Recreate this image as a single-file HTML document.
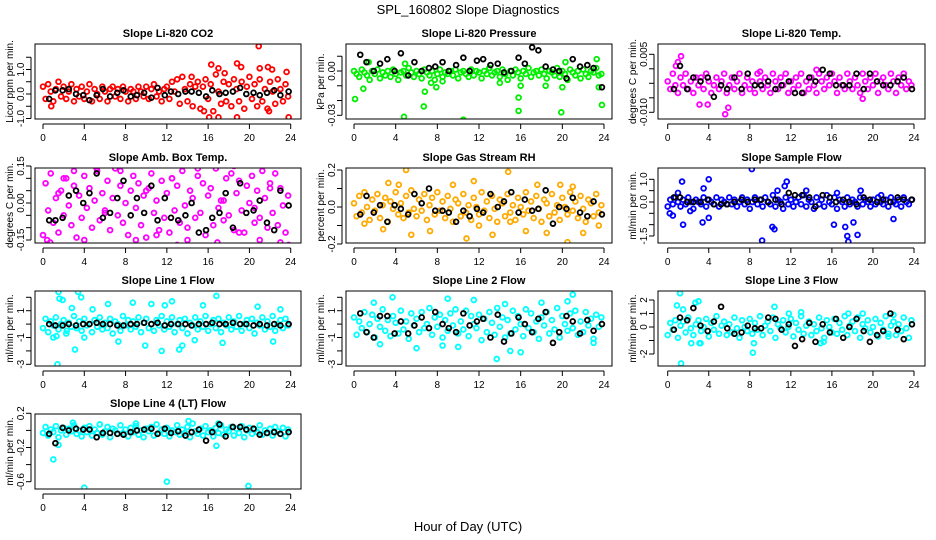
<!DOCTYPE html>
<html><head><meta charset="utf-8"><style>
html,body{margin:0;padding:0;background:#fff;}
svg{display:block;font-family:"Liberation Sans",Arial,sans-serif;}
</style></head><body>
<svg id="chart" width="936" height="540" viewBox="0 0 936 540">
<text x="468" y="14" text-anchor="middle" font-size="13">SPL_160802  Slope Diagnostics</text>
<text x="468" y="531" text-anchor="middle" font-size="13">Hour of Day (UTC)</text>
</svg>
<script>
// Shared time grids (hours of day)
const hours = [0,0.25,0.5,0.75,1,1.25,1.5,1.75,2,2.25,2.5,2.75,3,3.25,3.5,3.75,4,4.25,4.5,4.75,5,5.25,5.5,5.75,6,6.25,6.5,6.75,7,7.25,7.5,7.75,8,8.25,8.5,8.75,9,9.25,9.5,9.75,10,10.25,10.5,10.75,11,11.25,11.5,11.75,12,12.25,12.5,12.75,13,13.25,13.5,13.75,14,14.25,14.5,14.75,15,15.25,15.5,15.75,16,16.25,16.5,16.75,17,17.25,17.5,17.75,18,18.25,18.5,18.75,19,19.25,19.5,19.75,20,20.25,20.5,20.75,21,21.25,21.5,21.75,22,22.25,22.5,22.75,23,23.25,23.5,23.75];
const blackHours = [0.6,1.2,1.9,2.5,3.2,3.9,4.5,5.2,5.8,6.5,7.2,7.8,8.5,9.1,9.8,10.5,11.1,11.8,12.4,13.1,13.8,14.4,15.1,15.8,16.4,17.1,17.7,18.4,19.1,19.7,20.4,21,21.7,22.4,23,23.8];
const xTicks = [0,4,8,12,16,20,24];

// Panel 1: CO2 (ppm/min)
const co2 = [0.3,-0.2,0.4,0.1,-0.3,0.2,0.5,-0.1,0.3,-0.2,0.1,0.4,-0.3,0.2,-0.1,0.3,-0.2,0.1,0.4,-0.3,0.2,0,-0.2,0.3,0.1,-0.3,0.2,0.3,-0.1,0.2,-0.2,0.3,0.1,-0.3,0.2,0.1,-0.2,0.3,0.1,-0.1,0.3,-0.2,0.2,0.4,-0.1,0.1,-0.3,0.2,0.3,-0.2,0.5,0.1,0.6,-0.4,0.7,0.2,-0.3,0.4,-0.5,0.3,0.5,-0.6,0.3,0.6,-0.2,0.4,-0.7,0.8,0.1,-0.4,0.5,-0.3,0.4,-0.5,0.6,0.2,-0.3,0.5,-0.6,0.3,0.7,-0.2,0.4,-0.5,0.6,-0.3,0.2,-0.6,0.5,0.1,-0.4,0.6,0.2,-0.3,0.4,-0.1];
const co2OutH = [0.8,16.3,17,18.8,19.2,21,21.8,22.2,20.9,16.1,17,18.8,23.8,21.9,15.6,14.4,23.6,17.6];
const co2OutV = [-0.5,1.2,1.05,1.25,1.1,1.05,1.1,1.0,1.95,-0.95,-0.95,-0.95,-0.95,-0.7,-0.7,0.7,0.9,0.85];
const co2Black = [-0.2,0.15,0.15,0.2,0,-0.05,-0.25,-0.05,0.2,-0.1,0.05,0.15,-0.1,-0.05,0.05,-0.15,0.25,-0.05,0.1,0,0.1,0.1,0.05,-0.1,0.15,0,0.05,0.1,0.25,0,0.05,-0.05,0.05,0.15,-0.05,0.1];
// Panel 2: Pressure (kPa/min)
const pres = [0,-0.002,-0.004,0.001,-0.001,-0.003,-0.006,0,-0.002,0.001,-0.005,-0.001,-0.003,0,-0.004,0.001,-0.002,-0.006,-0.001,0,-0.003,0.002,-0.001,-0.004,0,-0.002,-0.005,0.001,-0.001,-0.003,0,-0.006,-0.002,0.001,-0.004,-0.001,-0.002,0,-0.003,0.001,-0.005,-0.001,0,-0.002,-0.004,0.001,-0.003,0,-0.001,-0.005,0,-0.002,0.002,-0.003,-0.001,0,-0.004,0.001,-0.002,-0.006,0,-0.003,0.001,-0.001,-0.005,0,-0.002,0.002,-0.004,-0.001,0,-0.003,0.001,-0.002,-0.005,0,-0.001,-0.003,0.002,-0.004,0,-0.002,-0.006,0.001,-0.001,-0.003,0,-0.005,0.001,-0.002,-0.004,0,-0.001,0.002,-0.003,-0.002];
const presOutH = [0.1,0.9,4.8,6.7,6.8,7.9,10.5,7.4,15.8,15.8,16,19.9,20,23.8,23.5,14,20.3,23.3,1.4,4.9,8.5,18.4];
const presOutV = [-0.019,-0.012,-0.031,-0.024,-0.014,-0.011,-0.033,-0.008,-0.027,-0.018,-0.01,-0.028,-0.011,-0.023,-0.011,-0.008,0.006,0.008,0.006,0.005,-0.007,-0.01];
const presBlack = [0.011,0.006,0,0.005,0.008,0,0.012,-0.003,0.006,0,0.002,0.003,0.006,0,0.004,0.009,0,0.007,0.008,0.004,0.005,-0.001,0,0.009,0.005,0.016,0.014,0.003,0.001,0,-0.005,0.008,0.003,0.004,0.002,-0.011];
// Panel 3: Li-820 temp (degC/min)
const temp = [-0.002,-0.004,0,-0.003,-0.005,-0.001,-0.003,0,-0.004,-0.002,-0.005,-0.001,-0.003,-0.001,-0.004,0,-0.002,-0.005,-0.003,-0.001,-0.004,-0.002,0,-0.005,-0.003,-0.001,-0.004,-0.002,0,-0.005,-0.003,-0.001,-0.004,-0.002,-0.005,0,-0.002,-0.004,-0.001,-0.003,-0.005,0,-0.002,-0.004,-0.001,-0.003,0,-0.005,-0.002,-0.004,-0.001,-0.003,0,-0.005,-0.002,-0.004,-0.001,-0.003,-0.005,0,-0.002,-0.004,-0.001,-0.003,0,-0.002,-0.005,-0.001,-0.003,-0.004,0,-0.002,-0.004,-0.001,-0.003,-0.005,0,-0.002,-0.004,-0.001,-0.003,0,-0.005,-0.002,-0.001,-0.003,-0.004,0,-0.002,-0.005,-0.001,-0.003,0,-0.004,-0.002,-0.003];
const tempOutH = [0.8,1.3,3.1,5.6,5.9,14.5,9,19,3.9,1.0];
const tempOutV = [0.002,0.0045,-0.008,-0.0105,-0.0088,0.001,0.0005,-0.0065,-0.008,0.003];
const tempBlack = [-0.004,0.002,-0.004,-0.001,-0.002,-0.001,-0.006,-0.003,-0.004,-0.001,-0.004,0,-0.003,-0.003,-0.002,-0.004,-0.003,-0.002,-0.005,-0.005,-0.001,-0.002,0.001,0,-0.003,-0.003,-0.003,0,-0.004,0,-0.002,-0.003,-0.003,-0.002,-0.001,-0.004];
// Panel 4: Amb box temp (degC/min)
const amb = [-0.13,0.08,-0.03,0.12,-0.08,0.02,-0.12,0.05,-0.05,0.10,-0.01,-0.09,0.07,-0.14,0.03,-0.06,0.11,-0.02,0.06,-0.10,0.01,0.13,-0.07,0.04,-0.04,0.09,-0.11,0.02,0.14,-0.05,0.07,-0.08,0,-0.13,0.05,0.11,-0.02,0.08,-0.09,0.03,-0.14,0.06,0.12,-0.04,0.01,-0.11,0.09,-0.06,0.04,-0.12,0.10,-0.03,0.07,-0.08,0.13,-0.01,-0.10,0.05,0.02,-0.06,0.11,-0.04,0.08,-0.13,0.03,0.06,-0.09,0.14,-0.02,0.01,-0.07,0.10,-0.05,0.12,-0.11,0.04,0.09,-0.03,-0.12,0.07,0,0.11,-0.08,0.05,-0.06,0.13,0.02,-0.10,0.08,-0.04,0.12,-0.09,0.06,-0.01,-0.12,0.03];
const ambOutH = [0.4,0.7,3,4,5.2,7.5,9,11,13,14,15,16.3,16.9,18.5,19,21,23,23.8,12.5,2,1.5,6,10,17.5,20.5,22];
const ambOutV = [-0.15,-0.16,0.13,-0.15,0.14,0.13,-0.15,-0.13,-0.17,-0.15,0.14,0.16,-0.16,0.15,-0.12,-0.15,-0.16,-0.17,0.10,0.10,0.04,-0.03,0.05,0.01,-0.02,0.06];
const ambBlack = [-0.07,-0.07,-0.06,0.03,0.05,0,0.04,0.12,-0.06,-0.04,0.02,0.09,-0.05,0.02,-0.04,0.07,-0.07,0.02,-0.06,-0.07,-0.05,0,-0.12,-0.11,-0.06,-0.04,0.04,-0.10,0.08,-0.04,-0.03,0.01,-0.08,-0.11,0.05,-0.01];
// Panel 5: Gas stream RH (%/min)
const rh = [0.02,-0.05,0.06,-0.03,0.08,0,-0.07,0.04,-0.02,0.07,-0.06,0.01,0.05,-0.08,0.03,-0.01,0.08,-0.04,0.02,-0.06,0.06,-0.03,0.09,-0.01,-0.05,0.04,-0.02,0.07,-0.07,0.01,0.05,-0.04,0.08,-0.02,0.03,-0.06,0.06,-0.01,-0.08,0.04,0.02,-0.05,0.07,-0.03,0.01,-0.07,0.05,0,-0.04,0.08,-0.02,0.03,-0.06,0.06,-0.01,-0.08,0.04,0.02,-0.05,0.07,-0.03,0.01,-0.07,0.05,0,-0.04,0.08,-0.02,0.03,-0.06,0.06,-0.01,-0.08,0.04,0.02,-0.05,0.07,-0.03,0.01,-0.07,0.05,0,-0.04,0.08,-0.02,0.03,-0.06,0.06,-0.01,-0.08,0.04,0.02,-0.05,0.07,-0.03,0.01];
const rhOutH = [5,14.8,2.8,5.5,10.8,13.3,20.5,3.3,11.5,16.5,19.8,22,7.3,9.5,18.5,21,1,15,12,23.5,4.3,17.6];
const rhOutV = [0.20,0.19,-0.12,-0.15,-0.17,-0.15,-0.19,0.13,0.14,-0.13,0.12,-0.14,-0.13,0.12,-0.14,0.11,-0.09,-0.08,-0.10,-0.10,0.12,0.12];
const rhBlack = [-0.04,0.06,-0.03,0.01,-0.08,0.01,-0.01,-0.04,0.07,0.02,0.10,-0.02,-0.02,-0.03,-0.08,-0.02,-0.05,-0.01,-0.03,0.07,0,0.03,0.08,-0.03,0.04,-0.02,-0.01,0.09,-0.09,0,-0.01,0.05,-0.03,-0.05,0.03,-0.04];
// Panel 6: Sample flow (ml/min/min)
const sflow = [-0.2,0.1,-0.1,0.2,0,-0.2,0.1,-0.1,0.2,0,-0.3,0.1,0,-0.1,0.2,-0.2,0.1,0,-0.1,0.2,-0.2,0.1,0,-0.1,0.2,-0.1,0.1,-0.2,0,0.2,-0.1,0.1,-0.3,0,0.2,-0.1,0.1,-0.2,0.2,0,-0.1,0.3,-0.2,0.1,0,-0.3,0.2,-0.1,0.1,-0.2,0,0.2,-0.1,0.3,-0.2,0.1,0,-0.3,0.2,-0.1,0.1,-0.2,0.3,0,-0.1,0.2,-0.3,0.1,0,-0.2,0.2,-0.1,0.1,0,-0.2,0.2,-0.1,0.1,0,-0.2,0.1,-0.1,0.2,0,-0.1,0.1,-0.2,0.2,0,-0.1,0.1,-0.2,0.2,0,-0.1,0.1];
const sflowOutH = [0.5,1,1.4,1.5,3.4,4,3.5,4,9.2,10.2,10.4,10.7,11.4,8.2,11.6,16.2,17.3,17.5,17.6,18.5,18.1,22,18.8,16.5,0.2,2.2,13.5,20.8];
const sflowOutV = [-0.6,0.4,0.9,-1.0,-0.9,-0.7,0.6,1.0,-1.7,-1.1,-1.2,0.5,0.7,1.45,0.9,-1.0,-1.1,-1.5,-1.75,-1.45,-0.9,-0.75,0.5,0.4,-0.5,-0.4,0.5,0.3];
const sflowBlack = [0.2,0.2,0,0,0,0.1,-0.1,-0.1,-0.1,0,0.1,0,0.1,0.1,0,0.1,-0.1,0.4,0.3,0.3,0.2,-0.2,0.3,0.2,0,0.1,0,-0.1,0.2,0.1,0,0.1,0,0.2,0.1,0.1];
// Panel 7: Line 1 flow
const l1 = [-0.3,0.4,-0.6,0.2,-0.1,0.5,-0.4,0,0.3,-0.7,0.1,-0.2,0.6,-0.3,0.2,-0.5,0.4,-0.1,0,-0.6,0.3,-0.2,0.5,-0.4,0.1,-0.3,0.4,-0.7,0.2,0,-0.5,0.6,-0.1,0.3,-0.4,0.2,-0.2,0.5,-0.6,0.1,0.4,-0.3,0,-0.5,0.3,-0.1,0.6,-0.4,0.2,-0.2,0.5,-0.6,0,0.3,-0.3,0.4,-0.7,0.1,-0.1,0.5,-0.4,0.2,-0.2,0.6,-0.5,0,0.3,-0.3,0.4,-0.6,0.1,-0.1,0.5,-0.4,0.2,-0.2,0.6,-0.5,0,0.3,-0.3,0.4,-0.7,0.1,-0.1,0.5,-0.4,0.2,-0.2,0.6,-0.5,0,0.3,-0.3,0.4,-0.1];
const l1OutH = [1,1.3,1.6,1.9,2.3,1.5,3.4,3.7,3.1,1.4,4,2.8,4.8,9.9,11.5,10.5,11.8,12.5,15.5,16.8,13.2,13.5,17.4,20.8,22.3,23,14.7,8.7,7.3,6.3];
const l1OutV = [-1.0,-0.9,1.9,1.8,-0.5,2.4,2.4,2.0,-1.9,-3.0,-1.0,1.2,1.1,-1.6,-2.0,1.5,1.4,1.7,1.4,2.1,-1.9,-1.6,-1.4,1.3,-1.3,1.1,-1.2,1.6,-1.3,1.5];
const l1Black = [0,-0.1,-0.1,0,-0.1,0,0,0.1,0,0,-0.1,-0.1,0,0,0.1,0,0.1,-0.1,0,0,0,-0.1,0,0,0.1,0,0,0.1,0,0,-0.1,0,-0.1,0,-0.1,0];
// Panel 8: Line 2 flow
const l2 = [0.5,-0.8,0.2,-0.3,0.9,-0.6,0,0.7,-1.0,0.4,-0.2,1.1,-0.5,0.3,-0.9,0.6,0.1,-0.7,1.0,-0.4,0.2,-1.1,0.8,-0.1,0.4,-0.6,0.9,-0.3,0,1.2,-0.8,0.5,-0.2,0.7,-1.0,0.3,-0.5,0.8,-0.1,1.1,-0.7,0.2,-0.4,1.0,-0.9,0.6,0,-0.3,0.7,-1.2,0.4,-0.6,0.9,0.1,-0.8,1.2,-0.2,0.5,-1.0,0.3,-0.7,1.0,-0.4,0.6,0,-0.9,1.1,-0.3,0.8,-0.6,0.2,-1.1,0.5,-0.1,0.9,-0.7,0.3,-0.4,1.2,-1.0,0.6,0,-0.5,0.8,-0.3,1.0,-0.8,0.2,-0.6,0.9,-0.1,0.4,-1.1,0.7,-0.2,0.5];
const l2OutH = [3.7,1.9,9,13.7,11.5,15,16,18,20.5,21,23,10,6,8.5,2.5,14.5];
const l2OutV = [2.0,1.6,1.9,-2.6,1.8,-2.0,-2.1,1.6,1.7,2.2,-1.4,-1.7,-1.8,-1.6,-1.5,1.5];
const l2Black = [0.8,-0.6,-1.0,0.6,0.6,-0.7,0.2,-0.7,-0.1,0.5,-0.3,0.9,0,-0.3,-0.6,0.8,-0.1,0.2,0.4,-1.0,0.7,-1.3,-0.7,0.5,0,-0.6,0.4,0.9,-1.4,-0.6,0.6,0.2,-0.7,0.3,-0.5,0];
// Panel 9: Line 3 flow
const l3 = [-0.6,0.3,-0.2,0.5,-0.8,0.1,0.4,-0.4,0.7,-0.1,-0.6,0.2,0.5,-0.3,0,0.6,-0.7,0.3,-0.2,0.8,-0.5,0.1,0.4,-0.6,0.2,-0.4,0.7,-0.1,-0.8,0.5,0,-0.3,0.6,-0.5,0.3,-0.2,0.8,-0.6,0.1,0.4,-0.3,0.7,-0.8,0.2,-0.1,0.5,-0.4,0,0.6,-0.7,0.3,-0.2,0.8,-0.5,0.1,0.4,-0.6,0.2,-0.3,0.7,-0.1,-0.8,0.5,0,-0.4,0.6,-0.5,0.3,-0.2,0.8,-0.6,0.1,0.4,-0.3,0.7,-0.8,0.2,-0.1,0.5,-0.4,0,0.6,-0.7,0.3,-0.2,0.8,-0.5,0.1,0.4,-0.6,0.2,-0.3,0.7,-0.1,-0.8,0.5];
const l3OutH = [1.2,1.3,0.9,1.5,2.7,3,3.1,2.3,3.2,8.3,8.4,10.4,11.8,13,14.9,15.2,17.6,19,22,21.5];
const l3OutV = [2.5,-2.7,1.6,1.3,1.8,1.9,-1.2,-1.2,-1.2,-1.9,-1.2,1.5,1.0,1.1,-1.2,-1.1,1.0,1.0,0.9,-0.7];
const l3Black = [-0.2,0.7,0.5,1.4,0.1,-0.3,0.4,1.5,-0.1,-0.5,-0.4,0.1,-0.1,-0.1,0.7,0.6,-0.2,0.2,-1.4,-0.9,0.3,-1.1,0.2,-0.4,0.6,-0.8,0,0.6,-0.3,-1.1,-0.6,-0.3,1.0,-0.2,-0.9,0.2];
// Panel 10: Line 4 (LT) flow
const l4 = [-0.03,0.04,-0.06,0.01,-0.02,0.05,-0.08,0,0.03,-0.05,0.02,-0.01,0.06,-0.04,0,-0.07,0.03,-0.02,0.05,-0.06,0.01,-0.03,0.07,-0.05,-0.01,0.04,-0.08,0.02,0,-0.04,0.06,-0.03,0.01,-0.07,0.03,-0.02,0.05,-0.05,0,-0.08,0.02,-0.01,0.04,-0.06,0.07,-0.03,0.01,-0.04,0.03,-0.07,0,-0.02,0.06,-0.05,0.01,-0.03,0.04,-0.08,0.08,-0.01,-0.04,0.02,-0.06,0.05,-0.02,0,-0.07,0.03,-0.03,0.06,-0.05,0.01,-0.01,0.04,-0.06,0.02,-0.03,0.05,-0.08,0,0.03,-0.04,0.01,-0.02,0.06,-0.05,0,-0.03,0.02,-0.06,0.04,-0.01,-0.04,0.03,-0.07,0.01];
const l4OutH = [1,4,12,19.9,1.5,16.8,14.1,2.9,17,9,5.5,0.5];
const l4OutV = [-0.34,-0.67,-0.60,-0.65,-0.17,-0.18,0.11,0.09,0.08,0.08,0.07,-0.05];
const l4Black = [-0.04,-0.15,0.03,0,0.02,0.01,0.01,-0.08,-0.03,-0.03,-0.04,-0.05,-0.02,0,0.01,0.02,-0.04,0.02,-0.03,-0.01,-0.06,-0.02,0.01,-0.12,-0.02,0.07,-0.07,0.04,0.04,0.01,0.02,-0.05,-0.03,-0.02,-0.04,-0.02];

const svg = document.getElementById('chart');
const NS = 'http://www.w3.org/2000/svg';
function mk(tag, attrs, parent){const e=document.createElementNS(NS,tag);for(const k in attrs)e.setAttribute(k,attrs[k]);(parent||svg).appendChild(e);return e;}

const colLeft=[35,346,658], colRight=[301,612,925];
const colX0=[43,354,667.7], colX24=[290.7,604,914];
const rowTop=[44,168,291,414], boxH=75;

const panels = [
 {id:'co2',title:'Slope Li-820 CO2',ylab:'Licor ppm per min.',col:0,row:0,color:'#ff0000',vals:co2,oh:co2OutH,ov:co2OutV,blk:co2Black,ref:[0,94,1,69.5],ticks:[-1,-0.5,0,0.5,1,1.5],labels:{'-1':'-1.0','0':'0.0','1':'1.0'}},
 {id:'pressure',title:'Slope Li-820 Pressure',ylab:'kPa per min.',col:1,row:0,color:'#00ee00',vals:pres,oh:presOutH,ov:presOutV,blk:presBlack,ref:[0,71,-0.03,115.3],ticks:[0.01,0,-0.01,-0.02,-0.03],labels:{'0':'0.00','-0.03':'-0.03'}},
 {id:'li820-temp',title:'Slope Li-820 Temp.',ylab:'degrees C per min.',col:2,row:0,color:'#ff00ff',vals:temp,oh:tempOutH,ov:tempOutV,blk:tempBlack,ref:[0.005,54.3,-0.010,112.3],ticks:[0.005,0.00125,-0.0025,-0.00625,-0.01],labels:{'0.005':'0.005','-0.01':'-0.010'}},
 {id:'amb-box-temp',title:'Slope Amb. Box Temp.',ylab:'degrees C per min.',col:0,row:1,color:'#ff00ff',vals:amb,oh:ambOutH,ov:ambOutV,blk:ambBlack,ref:[0.15,166,-0.15,240],ticks:[0.15,0.1,0.05,0,-0.05,-0.1,-0.15],labels:{'0.15':'0.15','0':'0.00','-0.15':'-0.15'}},
 {id:'gas-stream-rh',title:'Slope Gas Stream RH',ylab:'percent per min.',col:1,row:1,color:'#ffaa00',vals:rh,oh:rhOutH,ov:rhOutV,blk:rhBlack,ref:[0.2,170,-0.2,244],ticks:[0.2,0.1,0,-0.1,-0.2],labels:{'0.2':'0.2','0':'0.0','-0.2':'-0.2'}},
 {id:'sample-flow',title:'Slope Sample Flow',ylab:'ml/min per min.',col:2,row:1,color:'#0000ff',vals:sflow,oh:sflowOutH,ov:sflowOutV,blk:sflowBlack,ref:[1,179.3,-1.5,236],ticks:[1,0.5,0,-0.5,-1,-1.5],labels:{'1':'1.0','0':'0.0','-1.5':'-1.5'}},
 {id:'line1-flow',title:'Slope Line 1 Flow',ylab:'ml/min per min.',col:0,row:2,color:'#00ffff',vals:l1,oh:l1OutH,ov:l1OutV,blk:l1Black,ref:[1,310.7,-3,364.3],ticks:[2,1,0,-1,-2,-3],labels:{'1':'1','-1':'-1','-3':'-3'}},
 {id:'line2-flow',title:'Slope Line 2 Flow',ylab:'ml/min per min.',col:1,row:2,color:'#00ffff',vals:l2,oh:l2OutH,ov:l2OutV,blk:l2Black,ref:[1,310.7,-3,364.3],ticks:[2,1,0,-1,-2,-3],labels:{'1':'1','-1':'-1','-3':'-3'}},
 {id:'line3-flow',title:'Slope Line 3 Flow',ylab:'ml/min per min.',col:2,row:2,color:'#00ffff',vals:l3,oh:l3OutH,ov:l3OutV,blk:l3Black,ref:[2,300,-2,354],ticks:[2,1,0,-1,-2],labels:{'2':'2','1':'1','0':'0','-2':'-2'}},
 {id:'line4-flow',title:'Slope Line 4 (LT) Flow',ylab:'ml/min per min.',col:0,row:3,color:'#00ffff',vals:l4,oh:l4OutH,ov:l4OutV,blk:l4Black,ref:[0.2,413.3,-0.6,481.7],ticks:[0.2,0,-0.2,-0.4,-0.6],labels:{'0.2':'0.2','-0.2':'-0.2','-0.6':'-0.6'}}
];

panels.forEach(p=>{
  const L=colLeft[p.col], R=colRight[p.col], T=rowTop[p.row], B=T+boxH;
  const x0=colX0[p.col], x24=colX24[p.col];
  const xs=h=>x0+(x24-x0)*h/24;
  const ys=v=>p.ref[1]+(v-p.ref[0])*(p.ref[3]-p.ref[1])/(p.ref[2]-p.ref[0]);
  const g=mk('g',{});
  
  
  const cp=mk('clipPath',{id:'clip-'+p.id},g);
  mk('rect',{x:L,y:T,width:R-L,height:boxH},cp);
  const t=mk('text',{x:(L+R)/2,y:T-7,'text-anchor':'middle','font-size':11,'font-weight':'bold'},g);
  t.textContent=p.title;
  
  
  const yl=mk('text',{x:0,y:0,'text-anchor':'middle','font-size':10,transform:`translate(${L-22},${T+boxH/2}) rotate(-90)`},g);
  yl.textContent=p.ylab;
  
  
  const pts=mk('g',{'clip-path':`url(#clip-${p.id})`,fill:'none','stroke-width':1.8},g);
  
  
  p.vals.forEach((v,i)=>{
    const c=mk('circle',{cx:xs(hours[i]),cy:ys(v),r:2.4,stroke:p.color},pts);
    
    
  });
  p.oh.forEach((h,i)=>{
    const c=mk('circle',{cx:xs(h),cy:ys(p.ov[i]),r:2.4,stroke:p.color},pts);
    
    
  });
  p.blk.forEach((v,i)=>{
    const c=mk('circle',{cx:xs(blackHours[i]),cy:ys(v),r:2.4,stroke:'#000'},pts);
    
    
  });
  const box=mk('rect',{x:L,y:T,width:R-L,height:boxH,fill:'none',stroke:'#000','stroke-width':1},g);
  
  
  const xa=mk('g',{},g);
  
  
  mk('line',{x1:xs(0),x2:xs(24),y1:B+5,y2:B+5,stroke:'#000'},xa);
  xTicks.forEach(h=>{
    mk('line',{x1:xs(h),x2:xs(h),y1:B+5,y2:B+10,stroke:'#000'},xa);
    const tl=mk('text',{x:xs(h),y:B+22,'text-anchor':'middle','font-size':10},xa);
    tl.textContent=h;
    
    
  });
  const ya=mk('g',{},g);
  
  
  mk('line',{x1:L-4,x2:L-4,y1:ys(p.ticks[0]),y2:ys(p.ticks[p.ticks.length-1]),stroke:'#000'},ya);
  p.ticks.forEach(v=>{
    mk('line',{x1:L-9,x2:L-4,y1:ys(v),y2:ys(v),stroke:'#000'},ya);
    const lab=p.labels[String(v)];
    if(lab){
      const tl=mk('text',{x:0,y:0,'text-anchor':'middle','font-size':10,transform:`translate(${L-11},${ys(v)}) rotate(-90)`},ya);
      tl.textContent=lab;
      
      
    }
  });
});
</script>
</body></html>
